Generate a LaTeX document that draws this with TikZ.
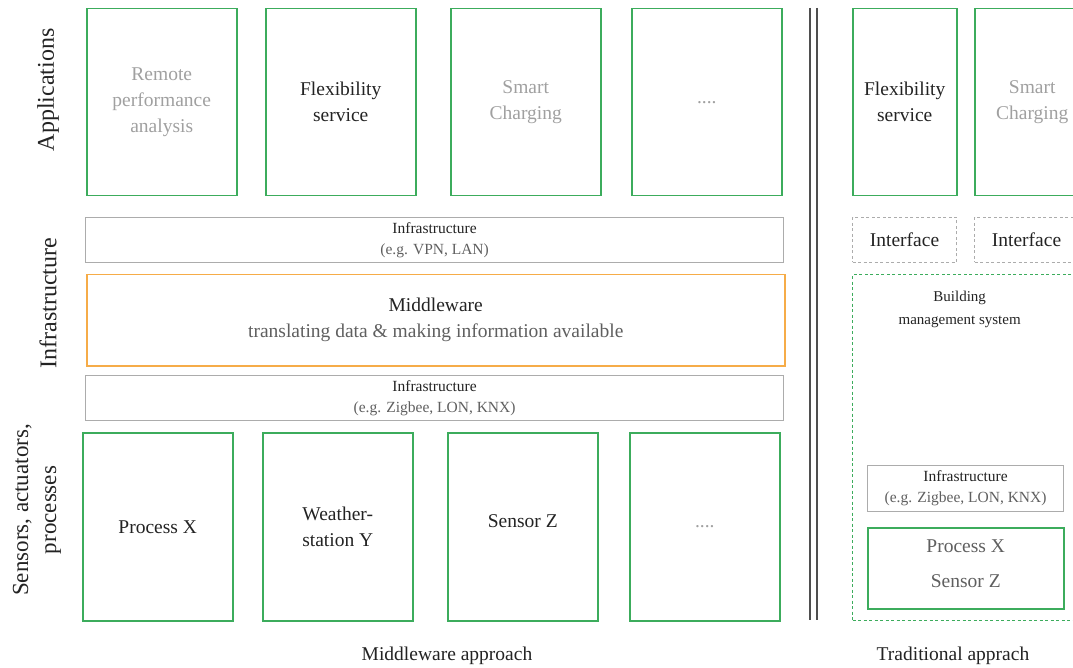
\documentclass[tikz,border=0pt]{standalone}
\usepackage{fontspec}
\setmainfont{Liberation Serif}
\usetikzlibrary{positioning}

\definecolor{boxgreen}{RGB}{60,172,92}
\definecolor{mworange}{RGB}{246,172,72}
\definecolor{boxgray}{RGB}{172,172,172}
\definecolor{lighttext}{RGB}{160,160,160}
\definecolor{darktext}{RGB}{35,35,35}
\definecolor{midtext}{RGB}{95,95,95}

\begin{document}
\begin{tikzpicture}[
    x=1pt, y=-1pt,
    box/.style={rectangle, draw, anchor=north west, align=center, inner sep=0pt},
    appbox/.style={box, draw=boxgreen, line width=1.5pt, minimum width=150pt, minimum height=187pt,
        font=\fontsize{19.5}{26}\selectfont, text=darktext},
    devbox/.style={appbox, minimum height=188pt},
    infrabox/.style={box, draw=boxgray, line width=1.2pt, minimum width=698pt, minimum height=45pt,
        font=\fontsize{15.5}{21}\selectfont, text=midtext},
    ifacebox/.style={box, draw=boxgray, line width=1pt, dash pattern=on 3pt off 2.5pt,
        minimum width=104pt, minimum height=45pt, font=\fontsize{19.5}{24}\selectfont, text=darktext},
    layerlabel/.style={rotate=90, align=center, font=\fontsize{24}{28}\selectfont, text=darktext},
    caption/.style={font=\fontsize{19.5}{24}\selectfont, text=darktext}
]
\clip (0,0) rectangle (1073,668);

% Applications (middleware approach)
\node[appbox, text=lighttext] (app1) at (86,8) {Remote\\performance\\analysis};
\node[appbox] (app2) at (265,8) {Flexibility\\service};
\node[appbox, text=lighttext] (app3) at (450,8) {Smart\\Charging};
\node[appbox, text=lighttext] (app4) at (631,8) {....};

% Infrastructure and middleware
\node[infrabox] (infra1) at (85,217) {{\color{darktext}Infrastructure}\\(e.g. VPN, LAN)};
\node[box, draw=mworange, line width=1.5pt, minimum width=698pt, minimum height=91pt,
    font=\fontsize{19.5}{26}\selectfont] (mw) at (86,274)
    {{\color{darktext}Middleware}\\{\color{midtext}translating data \& making information available}};
\node[infrabox] (infra2) at (85,375) {{\color{darktext}Infrastructure}\\(e.g. Zigbee, LON, KNX)};

% Sensors, actuators, processes
\node[devbox] (dev1) at (82,432) {Process X};
\node[devbox] (dev2) at (262,432) {Weather-\\station Y};
\node[devbox, text depth=12pt] (dev3) at (447,432) {Sensor Z};
\node[devbox, text=lighttext] (dev4) at (629,432) {....};

% Separator
\coordinate (septop) at (810,8);
\coordinate (sepbot) at (810,620);
\draw[darktext!80, line width=1.3pt] (septop) -- (sepbot);
\draw[darktext!80, line width=1.3pt] ([xshift=7pt]septop) -- ([xshift=7pt]sepbot);

% Traditional approach
\node[appbox, minimum width=104pt] (tapp1) at (852,8) {Flexibility\\service};
\node[appbox, minimum width=115pt, text=lighttext] (tapp2) at (974,8) {Smart\\Charging};
\node[ifacebox] (iface1) at (852,217) {Interface};
\node[ifacebox, minimum width=115pt] (iface2) at (974,217) {Interface\hspace{11pt}};
\node[box, draw=boxgreen, line width=1.3pt, dash pattern=on 3pt off 2.5pt,
    minimum width=236pt, minimum height=346pt] (bms) at (852,274) {};
\node[below=10pt of bms.north, xshift=-11pt, yshift=-4pt, align=center, text=darktext,
    font=\fontsize{15}{23}\selectfont] (bmslabel) {Building\\management system};
\node[infrabox, minimum width=196pt, minimum height=46pt] (tinfra) at (867,465)
    {{\color{darktext}Infrastructure}\\(e.g. Zigbee, LON, KNX)};
\node[box, draw=boxgreen, line width=1.5pt, minimum width=196pt, minimum height=81pt,
    font=\fontsize{19.5}{35}\selectfont, text=midtext, text depth=10pt] (tdev) at (867,527) {Process X\\Sensor Z};

% Layer labels
\node[layerlabel] (lapp) at (48,90) {Applications};
\node[layerlabel] (linfra) at (48,303) {Infrastructure};
\node[layerlabel, font=\fontsize{23}{28}\selectfont] (lsens) at (37,510) {Sensors, actuators,\\processes};

% Captions
\node[caption] (cap1) at (447,656) {Middleware approach};
\node[caption] (cap2) at (953,656) {Traditional apprach};

\end{tikzpicture}
\end{document}
